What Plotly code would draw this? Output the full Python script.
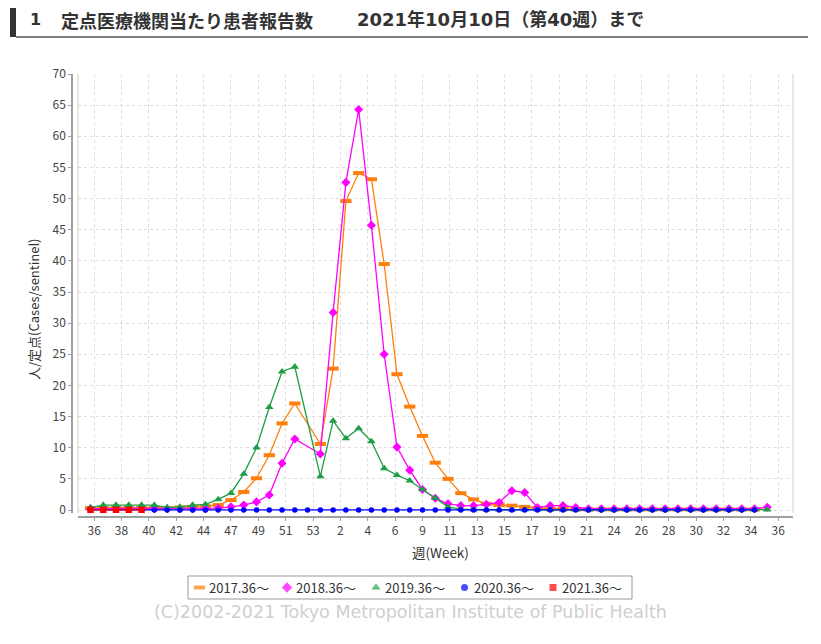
import plotly.graph_objects as go

# ---------------- data ----------------
weeks = [str(w) for w in range(36, 54)] + [str(w) for w in range(1, 37)]  # 54 week slots

tick_labels = ["36", "38", "40", "42", "44", "47", "49", "51", "53", "2", "4", "6", "9",
               "11", "13", "15", "17", "19", "21", "24", "26", "28", "30", "32", "34", "36"]

s2017 = [0.3, 0.3, 0.3, 0.3, 0.3, 0.3, 0.3, 0.4, 0.5, 0.6,
         0.8, 1.6, 2.9, 5.1, 8.8, 13.9, 17.1, None, 10.6, 22.7,
         49.6, 54.1, 53.1, 39.5, 21.8, 16.6, 11.9, 7.6, 5.0, 2.7,
         1.7, 1.0, 0.8, 0.7, 0.5, 0.3, 0.2, 0.2, 0.1, 0.1,
         0.1, 0.1, 0.1, 0.1, 0.1, 0.1, 0.1, 0.1, 0.1, 0.1,
         0.1, 0.1, 0.1, None]

s2018 = [0.2, 0.2, 0.2, 0.2, 0.2, 0.2, 0.2, 0.2, 0.2, 0.2,
         0.3, 0.5, 0.8, 1.3, 2.4, 7.5, 11.4, None, 9.0, 31.7,
         52.6, 64.3, 45.7, 25.0, 10.1, 6.4, 3.3, 1.9, 1.0, 0.7,
         0.7, 0.9, 1.2, 3.1, 2.8, 0.4, 0.7, 0.7, 0.4, 0.2,
         0.2, 0.2, 0.2, 0.2, 0.2, 0.2, 0.2, 0.2, 0.2, 0.2,
         0.2, 0.2, 0.2, 0.45]

s2019 = [0.4, 0.8, 0.8, 0.8, 0.8, 0.8, 0.4, 0.5, 0.8, 0.9,
         1.7, 2.7, 5.8, 10.0, 16.5, 22.2, 23.0, None, 5.4, 14.3,
         11.5, 13.1, 11.0, 6.7, 5.6, 4.7, 3.3, 1.9, 0.5, 0.15,
         0.05, 0.05, 0.05, 0.05, 0.05, 0.05, 0.05, 0.05, 0.05, 0.05,
         0.05, 0.05, 0.05, 0.05, 0.05, 0.05, 0.05, 0.05, 0.05, 0.05,
         0.05, 0.05, 0.05, 0.05]

s2020 = [0.01, 0.02, 0.01, 0.02, 0.01, 0.01, 0.02, 0.01, 0.02, 0.01,
         0.02, 0.01, 0.01, 0.02, 0.01, 0.01, 0.02, 0.01, 0.01, 0.02,
         0.01, 0.01, 0.02, 0.01, 0.01, 0.01, 0.02, 0.01, 0.01, 0.01,
         0.02, 0.01, 0.01, 0.01, 0.01, 0.02, 0.01, 0.01, 0.01, 0.01,
         0.01, 0.01, 0.01, 0.02, 0.01, 0.01, 0.01, 0.01, 0.01, 0.01,
         0.01, 0.01, 0.01, None]

s2021 = [0.02, 0.01, 0.02, 0.01, 0.03]

series_names = ["2017.36～", "2018.36～", "2019.36～", "2020.36～", "2021.36～"]
series_values = [s2017, s2018, s2019, s2020, s2021]

# ---------------- layout helpers ----------------
OFF = 8                      # page body margin
W, H = 813, 628
ML, MR, MT, MB = 64, 28, 66, 22
PW, PH = W - ML - MR, H - MT - MB


def fx(px):                  # page pixel -> paper fraction
    return (px - OFF - ML) / PW


def fy(py):
    return (H - MB - (py - OFF)) / PH


colors = ["#FF7F0E", "#FF00FF", "#1F9E45", "#0000FF", "#FF0000"]
symbols = ["line-ew", "diamond", "triangle-up", "circle", "square"]
msizes = [8, 7, 7.5, 5.5, 6.5]
mlines = [4, 0, 0, 0, 0]

DAYS = 7
xpos = [i * DAYS for i in range(len(weeks))]
tick_pos = [2 + 15 * j for j in range(len(tick_labels))]

fig = go.Figure()
for name, vals, c, sym, ms, ml in zip(series_names, series_values, colors, symbols, msizes, mlines):
    fig.add_trace(go.Scatter(
        x=xpos[:len(vals)], y=vals, name=name, mode="lines+markers",
        connectgaps=True, showlegend=False,
        line=dict(color=c, width=1.3),
        marker=dict(symbol=sym, size=ms, color=c, line=dict(width=ml, color=c)),
    ))

# manual legend (helper axes in page pixels)
leg_x = [199.5, 287, 376, 464.5, 553]
fig.add_trace(go.Scatter(
    x=leg_x, y=[0] * 5, xaxis="x2", yaxis="y2", mode="markers", showlegend=False,
    hoverinfo="skip",
    marker=dict(symbol=symbols, size=[8, 8, 8, 7, 7], color=colors,
                line=dict(width=[4, 0, 0, 0, 0], color=colors)),
))

font_main = "Noto Sans CJK JP, DejaVu Sans, sans-serif"
font_title_num = "DejaVu Sans, Noto Sans CJK JP, sans-serif"

annotations = []
for lx, name in zip(leg_x, series_names):
    annotations.append(dict(x=lx + 7, y=0, xref="x2", yref="y2", text=name, showarrow=False,
                            xanchor="left", yanchor="middle",
                            font=dict(family=font_main, size=13, color="#333333")))

annotations += [
    dict(x=fx(28), y=fy(20), xref="paper", yref="paper", text="<b>1</b>", showarrow=False,
         xanchor="left", yanchor="middle", font=dict(family=font_title_num, size=16, color="#333333")),
    dict(x=fx(59), y=fy(20), xref="paper", yref="paper", text="<b>定点医療機関当たり患者報告数</b>",
         showarrow=False, xanchor="left", yanchor="middle",
         font=dict(family=font_main, size=18, color="#333333")),
    dict(x=fx(355), y=fy(20), xref="paper", yref="paper", text="<b>2021年10月10日（第40週）まで</b>",
         showarrow=False, xanchor="left", yanchor="middle",
         font=dict(family=font_title_num, size=18, color="#333333")),
    # axis titles
    dict(x=fx(33), y=fy(310), xref="paper", yref="paper", text="人/定点(Cases/sentinel)",
         textangle=-90, showarrow=False, xanchor="center", yanchor="middle",
         font=dict(family=font_main, size=13, color="#333333")),
    dict(x=fx(440), y=fy(552), xref="paper", yref="paper", text="週(Week)",
         showarrow=False, xanchor="center", yanchor="middle",
         font=dict(family=font_main, size=13.5, color="#333333")),
    # watermark
    dict(x=fx(410), y=fy(612), xref="paper", yref="paper",
         text="(C)2002-2021 Tokyo Metropolitan Institute of Public Health",
         showarrow=False, xanchor="center", yanchor="middle",
         font=dict(family="DejaVu Sans, sans-serif", size=17.5, color="#CFCFCF")),
]

shapes = [
    dict(type="rect", xref="paper", yref="paper", x0=fx(10), x1=fx(16), y0=fy(37), y1=fy(8),
         fillcolor="#333333", line=dict(width=0)),
    dict(type="line", xref="paper", yref="paper", x0=fx(16), x1=fx(808), y0=fy(37), y1=fy(37),
         line=dict(color="#555555", width=1.5)),
    dict(type="line", xref="paper", yref="paper", x0=fx(78), x1=fx(78), y0=fy(513), y1=fy(74),
         line=dict(color="#D0D0D0", width=1)),
    dict(type="line", xref="paper", yref="paper", x0=fx(793), x1=fx(793), y0=fy(513), y1=fy(74),
         line=dict(color="#D0D0D0", width=1)),
    dict(type="rect", xref="paper", yref="paper", x0=fx(188), x1=fx(632), y0=fy(599), y1=fy(576),
         line=dict(color="#999999", width=1), fillcolor="rgba(0,0,0,0)"),
]

grid_kw = dict(showgrid=True, gridcolor="#DDDDDD", griddash="3px,3px", gridwidth=1,
               zeroline=False, showline=True, linecolor="#A0A0A0", linewidth=1.5,
               ticks="outside", ticklen=3, tickcolor="#A0A0A0",
               tickfont=dict(family=font_main, size=12, color="#444444"))

fig.update_layout(
    width=W, height=H,
    margin=dict(l=ML, r=MR, t=MT, b=MB, pad=0),
    paper_bgcolor="white", plot_bgcolor="white",
    font=dict(family=font_main, size=12, color="#444444"),
    showlegend=False,
    annotations=annotations, shapes=shapes,
    xaxis=dict(domain=[fx(78), 1], anchor="free", position=fy(517),
               range=[-6.85, 385.1], tickvals=tick_pos, ticktext=tick_labels, **grid_kw),
    yaxis=dict(domain=[fy(513), 1], anchor="free", position=0,
               range=[-0.48, 70], tickvals=list(range(0, 71, 5)), **grid_kw),
    xaxis2=dict(domain=[0, 1], range=[ML + OFF, ML + OFF + PW], visible=False, fixedrange=True),
    yaxis2=dict(domain=[fy(599), fy(576)], range=[-1, 1], visible=False, fixedrange=True,
                anchor="x2"),
)

fig.write_html("out.html")
